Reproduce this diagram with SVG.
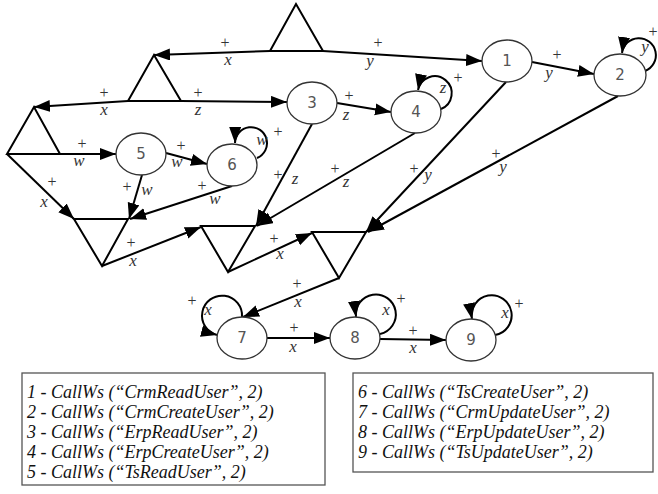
<svg xmlns="http://www.w3.org/2000/svg" width="658" height="494" viewBox="0 0 658 494">
<defs>
<marker id="ah" markerUnits="userSpaceOnUse" markerWidth="17" markerHeight="13" refX="16" refY="6" orient="auto">
<path d="M0,0 L16,6 L0,12 z" fill="#000"/>
</marker>
<style>
.n ellipse{fill:#fff;stroke:#333;stroke-width:1.3}
.n text{font-family:"DejaVu Sans",sans-serif;font-size:15px;fill:#555;text-anchor:middle}
.tri{fill:none;stroke:#000;stroke-width:2;stroke-linejoin:miter}
.e{fill:none;stroke:#000;stroke-width:2;marker-end:url(#ah)}
.p{font-family:"Liberation Serif",serif;font-size:16px;fill:#333;text-anchor:middle}
.v{font-family:"Liberation Serif",serif;font-style:italic;font-size:17px;fill:#333;text-anchor:middle}
.box{fill:#fff;stroke:#555;stroke-width:1.3}
.lg{font-family:"Liberation Serif",serif;font-style:italic;font-size:18px;fill:#111}
</style>
</defs>
<rect width="658" height="494" fill="#fff"/>

<g id="joins">
<path class="tri" d="M270,51 L296,4 L323,51 Z"/>
<path class="tri" d="M128,101 L154,55 L181,101 Z"/>
<path class="tri" d="M7,154 L34,107 L60,154 Z"/>
<path class="tri" d="M74,219 L128,219 L102,266 Z"/>
<path class="tri" d="M201,226 L255,226 L228,272 Z"/>
<path class="tri" d="M312,232 L366,232 L339,278 Z"/>
</g>

<g id="connectors">
<path class="e" d="M270,51 L154,55"/>
<path class="e" d="M323,51 L482,61"/>
<path class="e" d="M128,101 L34,107"/>
<path class="e" d="M181,101 L287,102"/>
<path class="e" d="M60,154 L116,154"/>
<path class="e" d="M7,154 L74,219"/>
<path class="e" d="M166,153 L207,164"/>
<path class="e" d="M142,175 L129,219"/>
<path class="e" d="M232,186 L130,219"/>
<path class="e" d="M102,266 L201,227"/>
<path class="e" d="M312,124 L256,226"/>
<path class="e" d="M415,133 L257,226"/>
<path class="e" d="M337,103 L391,112"/>
<path class="e" d="M532,62 L594,74"/>
<path class="e" d="M506,82 L366,232"/>
<path class="e" d="M618,96 L368,232"/>
<path class="e" d="M228,272 L312,233"/>
<path class="e" d="M339,278 L243,317"/>
<path class="e" d="M267,338 L330,338"/>
<path class="e" d="M380,339 L446,340"/>
<path class="e" d="M257,158 A16,16 0 1 0 235,143"/>
<path class="e" d="M441,109 A17,17 0 1 0 418,90"/>
<path class="e" d="M645,71 A17,17 0 1 0 622,53"/>
<path class="e" d="M242,317 A20,20 0 1 0 217,335"/>
<path class="e" d="M380,334 A20,20 0 1 0 356,317"/>
<path class="e" d="M495,335 A20,20 0 1 0 472,319"/>
</g>

<g id="labels">
<text class="p" x="225" y="48">+</text><text class="v" x="228" y="65">x</text>
<text class="p" x="378" y="48">+</text><text class="v" x="370" y="66">y</text>
<text class="p" x="104" y="98">+</text><text class="v" x="104" y="115">x</text>
<text class="p" x="198" y="98">+</text><text class="v" x="198" y="115">z</text>
<text class="p" x="82" y="149">+</text><text class="v" x="79" y="166">w</text>
<text class="p" x="181" y="151">+</text><text class="v" x="177" y="167">w</text>
<text class="p" x="127" y="192">+</text><text class="v" x="147" y="195">w</text>
<text class="p" x="202" y="191">+</text><text class="v" x="215" y="204">w</text>
<text class="p" x="52" y="187">+</text><text class="v" x="44" y="207">x</text>
<text class="p" x="131" y="248">+</text><text class="v" x="133" y="266">x</text>
<text class="p" x="278" y="180">+</text><text class="v" x="295" y="184">z</text>
<text class="p" x="335" y="174">+</text><text class="v" x="346" y="187">z</text>
<text class="p" x="349" y="101">+</text><text class="v" x="346" y="120">z</text>
<text class="p" x="557" y="60">+</text><text class="v" x="549" y="78">y</text>
<text class="p" x="414" y="174">+</text><text class="v" x="428" y="180">y</text>
<text class="p" x="496" y="159">+</text><text class="v" x="503" y="172">y</text>
<text class="p" x="274" y="244">+</text><text class="v" x="280" y="259">x</text>
<text class="p" x="297" y="289">+</text><text class="v" x="298" y="307">x</text>
<text class="p" x="294" y="333">+</text><text class="v" x="293" y="352">x</text>
<text class="p" x="413" y="336">+</text><text class="v" x="413" y="353">x</text>
<text class="v" x="262" y="145">w</text><text class="p" x="278" y="137">+</text>
<text class="v" x="443" y="93">z</text><text class="p" x="458" y="83">+</text>
<text class="v" x="645" y="52">y</text><text class="p" x="653" y="37">+</text>
<text class="p" x="192" y="306">+</text><text class="v" x="208" y="315">x</text>
<text class="v" x="386" y="315">x</text><text class="p" x="401" y="304">+</text>
<text class="v" x="505" y="318">x</text><text class="p" x="519" y="309">+</text>
</g>

<g id="node1" class="n"><ellipse cx="507" cy="61" rx="25" ry="21"/><text x="507" y="66">1</text></g>
<g id="node2" class="n"><ellipse cx="620" cy="75" rx="26" ry="21"/><text x="620" y="80">2</text></g>
<g id="node3" class="n"><ellipse cx="312" cy="103" rx="25" ry="21"/><text x="312" y="108">3</text></g>
<g id="node4" class="n"><ellipse cx="416" cy="112" rx="25" ry="21"/><text x="416" y="117">4</text></g>
<g id="node5" class="n"><ellipse cx="141" cy="154" rx="25" ry="21"/><text x="141" y="159">5</text></g>
<g id="node6" class="n"><ellipse cx="232" cy="165" rx="25" ry="21"/><text x="232" y="170">6</text></g>
<g id="node7" class="n"><ellipse cx="242" cy="338" rx="25" ry="21"/><text x="242" y="343">7</text></g>
<g id="node8" class="n"><ellipse cx="355" cy="338" rx="25" ry="21"/><text x="355" y="343">8</text></g>
<g id="node9" class="n"><ellipse cx="471" cy="340" rx="25" ry="21"/><text x="471" y="345">9</text></g>

<g id="legend1">
<rect class="box" x="22" y="373" width="303" height="112"/>
<text class="lg" x="27" y="398">1 - CallWs (“CrmReadUser”, 2)</text>
<text class="lg" x="27" y="418">2 - CallWs (“CrmCreateUser”, 2)</text>
<text class="lg" x="27" y="438">3 - CallWs (“ErpReadUser”, 2)</text>
<text class="lg" x="27" y="458">4 - CallWs (“ErpCreateUser”, 2)</text>
<text class="lg" x="27" y="478">5 - CallWs (“TsReadUser”, 2)</text>
</g>
<g id="legend2">
<rect class="box" x="353" y="373" width="300" height="99"/>
<text class="lg" x="358" y="398">6 - CallWs (“TsCreateUser”, 2)</text>
<text class="lg" x="358" y="418">7 - CallWs (“CrmUpdateUser”, 2)</text>
<text class="lg" x="358" y="438">8 - CallWs (“ErpUpdateUser”, 2)</text>
<text class="lg" x="358" y="458">9 - CallWs (“TsUpdateUser”, 2)</text>
</g>
</svg>
